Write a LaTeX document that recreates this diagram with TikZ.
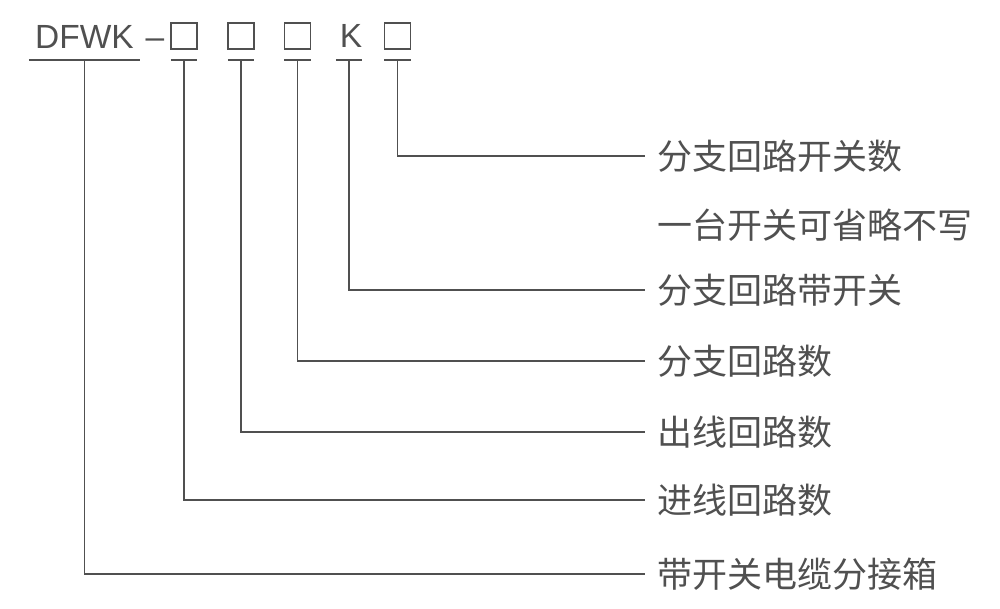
\documentclass[tikz,border=0pt]{standalone}
\usepackage{fontspec}
\setmainfont{Liberation Sans}
\newfontfamily\cjk{Noto Sans CJK SC}
\definecolor{ink}{HTML}{505050}
\tikzset{
  slot/.style={draw=ink,line width=1.4pt,minimum size=26pt,inner sep=0pt},
  tick/.style={minimum width=#1,minimum height=0pt,inner sep=0pt},
  lead/.style={draw=ink,line width=1.5pt},
  code/.style={inner sep=0pt,text=ink,font=\fontsize{33.5}{40}\selectfont},
  note/.style={anchor=west,inner xsep=12pt,inner ysep=0pt,text=ink,
    font=\cjk\fontsize{35}{40}\selectfont},
}
\begin{document}
\begin{tikzpicture}[x=1pt,y=-1pt]
  \useasboundingbox (0,0) rectangle (1000,608);

  % type code
  \node [code,anchor=base west] (dfwk) at (35,48) {DFWK};
  \node [code,anchor=base] (dash) at (155,48) {\textendash};
  \node [slot] (in)  at (184,36) {};
  \node [slot] (out) at (241,36) {};
  \node [slot] (br)  at (297.5,36) {};
  \node [code] (k)   at (351,36) {K};
  \node [slot] (sw)  at (397.5,36) {};

  % underlines
  \node [tick=111pt] (t0) at (84.5,60) {};
  \node [tick=26pt]  (t1) at (184,60) {};
  \node [tick=26pt]  (t2) at (241,60) {};
  \node [tick=26pt]  (t3) at (297.5,60) {};
  \node [tick=26pt]  (t4) at (349,60) {};
  \node [tick=26pt]  (t5) at (397.5,60) {};
  \foreach \t in {t0,t1,t2,t3,t4,t5}
    \draw [lead] (\t.west) -- (\t.east);

  % meanings
  \node [note] (n5) at (645,156) {分支回路开关数};
  \node [note] (n0) at (645,225) {一台开关可省略不写};
  \node [note] (n4) at (645,290) {分支回路带开关};
  \node [note] (n3) at (645,361) {分支回路数};
  \node [note] (n2) at (645,432) {出线回路数};
  \node [note] (n1) at (645,500) {进线回路数};
  \node [note] (n6) at (645,574) {带开关电缆分接箱};

  \draw [lead] (t5) |- (n5.west);
  \draw [lead] (t4) |- (n4.west);
  \draw [lead] (t3) |- (n3.west);
  \draw [lead] (t2) |- (n2.west);
  \draw [lead] (t1) |- (n1.west);
  \draw [lead] (t0) |- (n6.west);
\end{tikzpicture}
\end{document}
